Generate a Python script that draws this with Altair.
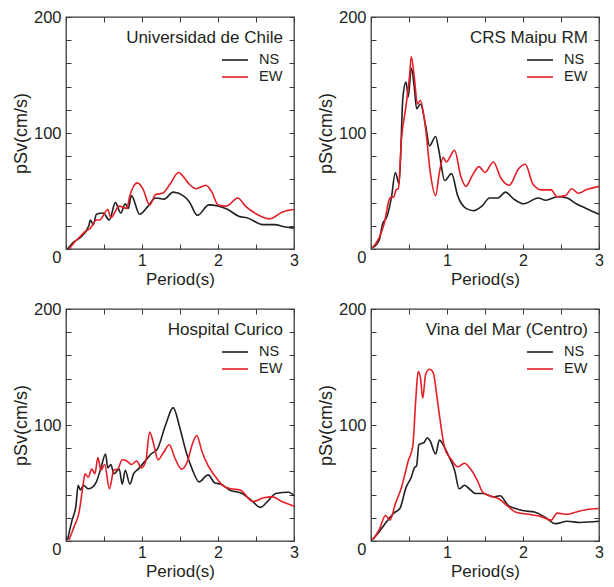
import altair as alt
import pandas as pd

SERIES = ["NS", "EW"]
COLORS = ["#231f20", "#e41e26"]
STATIONS = ["Universidad de Chile", "CRS Maipu RM", "Hospital Curico", "Vina del Mar (Centro)"]

X_TICKS = [0, 0.5, 1, 1.5, 2, 2.5, 3]
Y_TICKS = [0, 20, 40, 60, 80, 100, 120, 140, 160, 180, 200]

# Universidad de Chile
p1_ns_period = [0.02, 0.10, 0.19, 0.30, 0.32, 0.36, 0.40, 0.49, 0.57, 0.65, 0.72, 0.78, 0.82, 0.86, 0.97, 1.08, 1.18, 1.29, 1.41, 1.54, 1.62, 1.73, 1.88, 2.00, 2.13, 2.28, 2.38, 2.59, 2.74, 2.89, 3.0]
p1_ns_psv = [0, 6, 10, 20, 25, 21, 30, 31, 25, 40, 31, 39, 35, 46, 30, 37, 44, 43, 49, 46, 41, 29, 38, 37, 34, 28, 27, 21, 21, 19, 18]
p1_ew_period = [0.04, 0.10, 0.19, 0.25, 0.32, 0.40, 0.44, 0.55, 0.59, 0.70, 0.80, 0.84, 0.94, 1.01, 1.10, 1.18, 1.27, 1.37, 1.48, 1.56, 1.62, 1.71, 1.84, 1.92, 2.00, 2.11, 2.26, 2.36, 2.51, 2.68, 2.85, 3.0]
p1_ew_psv = [0, 5, 11, 15, 18, 25, 25, 34, 27, 37, 35, 46, 57, 52, 38, 47, 48, 56, 66, 61, 56, 52, 55, 49, 38, 37, 44, 37, 30, 26, 32, 34]

# CRS Maipu RM
p2_ns_period = [0.02, 0.11, 0.15, 0.21, 0.27, 0.32, 0.37, 0.42, 0.46, 0.49, 0.53, 0.57, 0.60, 0.65, 0.72, 0.77, 0.85, 0.89, 0.97, 1.06, 1.14, 1.25, 1.35, 1.46, 1.56, 1.67, 1.77, 1.88, 2.01, 2.20, 2.30, 2.45, 2.58, 2.70, 2.83, 3.0]
p2_ns_psv = [1, 8, 21, 28, 45, 66, 56, 131, 144, 131, 156, 139, 121, 125, 106, 89, 97, 86, 59, 65, 46, 35, 33, 37, 44, 44, 49, 43, 39, 44, 42, 45, 44, 39, 35, 30]
p2_ew_period = [0.02, 0.11, 0.17, 0.25, 0.30, 0.33, 0.36, 0.40, 0.46, 0.51, 0.53, 0.57, 0.61, 0.65, 0.72, 0.78, 0.85, 0.90, 0.95, 0.99, 1.10, 1.18, 1.25, 1.33, 1.42, 1.50, 1.61, 1.71, 1.82, 1.94, 2.03, 2.13, 2.24, 2.37, 2.45, 2.56, 2.64, 2.73, 2.83, 3.0]
p2_ew_psv = [1, 10, 21, 44, 45, 51, 52, 94, 123, 151, 166, 148, 125, 128, 103, 66, 46, 66, 79, 75, 85, 63, 54, 63, 71, 66, 75, 61, 55, 69, 73, 56, 51, 51, 45, 46, 52, 48, 51, 54]

# Hospital Curico
p3_ns_period = [0.02, 0.08, 0.13, 0.16, 0.19, 0.23, 0.29, 0.34, 0.40, 0.46, 0.52, 0.55, 0.59, 0.63, 0.70, 0.74, 0.78, 0.84, 0.89, 0.95, 1.03, 1.12, 1.20, 1.31, 1.41, 1.50, 1.58, 1.66, 1.75, 1.87, 1.96, 2.04, 2.15, 2.32, 2.44, 2.56, 2.65, 2.76, 2.93, 3.0]
p3_ns_psv = [1, 18, 30, 48, 44, 48, 45, 46, 51, 63, 75, 63, 66, 58, 62, 49, 61, 49, 58, 62, 68, 75, 79, 100, 115, 97, 77, 62, 51, 57, 50, 49, 44, 41, 35, 29, 34, 41, 42, 39]
p3_ew_period = [0.04, 0.11, 0.17, 0.22, 0.25, 0.29, 0.34, 0.38, 0.42, 0.46, 0.51, 0.57, 0.63, 0.68, 0.74, 0.80, 0.86, 0.93, 0.99, 1.05, 1.10, 1.16, 1.21, 1.28, 1.36, 1.43, 1.52, 1.60, 1.66, 1.72, 1.79, 1.87, 1.96, 2.06, 2.17, 2.29, 2.46, 2.59, 2.72, 2.84, 3.0]
p3_ew_psv = [1, 13, 24, 46, 58, 55, 62, 58, 72, 61, 66, 45, 61, 62, 70, 69, 66, 69, 63, 69, 94, 82, 70, 76, 83, 72, 62, 69, 83, 91, 77, 65, 56, 48, 45, 44, 34, 37, 38, 34, 30]

# Vina del Mar (Centro)
p4_ns_period = [0.02, 0.13, 0.21, 0.30, 0.38, 0.46, 0.53, 0.57, 0.60, 0.63, 0.70, 0.74, 0.78, 0.85, 0.90, 0.95, 1.01, 1.10, 1.16, 1.23, 1.31, 1.37, 1.48, 1.61, 1.70, 1.80, 1.90, 2.01, 2.15, 2.30, 2.43, 2.58, 2.75, 3.0]
p4_ns_psv = [1, 10, 17, 24, 28, 46, 55, 63, 65, 83, 85, 89, 86, 75, 87, 83, 75, 61, 45, 48, 44, 41, 41, 38, 39, 31, 28, 26, 25, 20, 15, 17, 16, 17]
p4_ew_period = [0.02, 0.11, 0.19, 0.25, 0.32, 0.40, 0.49, 0.55, 0.59, 0.62, 0.65, 0.68, 0.72, 0.77, 0.82, 0.87, 0.91, 0.97, 1.06, 1.14, 1.23, 1.31, 1.40, 1.47, 1.56, 1.69, 1.80, 1.90, 2.07, 2.24, 2.37, 2.45, 2.58, 2.70, 2.83, 3.0]
p4_ew_psv = [1, 10, 22, 18, 32, 46, 69, 82, 123, 146, 141, 123, 144, 148, 145, 123, 104, 80, 70, 64, 67, 62, 52, 42, 39, 36, 30, 25, 23, 21, 18, 24, 23, 25, 27, 28]

W = 228
H = 232
FONT = "Liberation Sans"
TXT = "#231f20"
FRAME = "#3a3a3a"
TICK_LEN = 5

xs = alt.Scale(domain=[0, 3], nice=False, zero=False)
ys = alt.Scale(domain=[0, 200], nice=False)
cs = alt.Scale(domain=SERIES, range=COLORS)


def main_axes():
    xa = alt.Axis(orient="bottom", values=X_TICKS, title="Period(s)",
                  labelExpr="datum.value % 1 == 0 && datum.value > 0 ? format(datum.value, 'd') : ''",
                  labelFlush=False, offset=-TICK_LEN, ticks=True, tickSize=TICK_LEN, tickWidth=1,
                  domain=False, grid=False, labelPadding=3, labelFontSize=16, titleFontSize=17,
                  titlePadding=3, labelColor=TXT, titleColor=TXT, tickColor=FRAME,
                  titleFontWeight="normal", labelFont=FONT, titleFont=FONT)
    ya = alt.Axis(orient="left", values=Y_TICKS, title="pSv(cm/s)",
                  labelExpr="datum.value % 100 == 0 ? datum.label : ''",
                  labelBaseline=alt.condition("datum.value == 0", alt.value("top"), alt.value("middle")),
                  offset=-TICK_LEN, ticks=True, tickSize=TICK_LEN, tickWidth=1, domain=False, grid=False,
                  labelPadding=5, labelFontSize=16.5, titleFontSize=18, titlePadding=3, labelColor=TXT,
                  titleColor=TXT, tickColor=FRAME, titleFontWeight="normal", labelFont=FONT, titleFont=FONT)
    return xa, ya


def mirror_axes():
    xa = alt.Axis(orient="top", values=X_TICKS, title=None, labels=False, ticks=True, grid=False,
                  offset=-TICK_LEN, tickSize=TICK_LEN, tickWidth=1, domain=False, tickColor=FRAME)
    ya = alt.Axis(orient="right", values=Y_TICKS, title=None, labels=False, ticks=True, grid=False,
                  offset=-TICK_LEN, tickSize=TICK_LEN, tickWidth=1, domain=False, tickColor=FRAME)
    return xa, ya


def panel(name, ns_p, ns_v, ew_p, ew_v):
    df = pd.concat([
        pd.DataFrame({"period": ns_p, "psv": ns_v, "series": SERIES[0]}),
        pd.DataFrame({"period": ew_p, "psv": ew_v, "series": SERIES[1]}),
    ], ignore_index=True)
    mxa, mya = main_axes()
    rxa, rya = mirror_axes()
    mirror = alt.Chart(df).mark_line(strokeOpacity=0).encode(
        x=alt.X("period:Q", scale=xs, axis=rxa),
        y=alt.Y("psv:Q", scale=ys, axis=rya),
        detail="series:N",
    )
    lines = alt.Chart(df).mark_line(strokeWidth=1.6, interpolate="monotone").encode(
        x=alt.X("period:Q", scale=xs, axis=mxa),
        y=alt.Y("psv:Q", scale=ys, axis=mya),
        color=alt.Color("series:N", scale=cs, legend=None),
    )
    title = alt.Chart(pd.DataFrame({"label": [name]})).mark_text(
        align="right", baseline="alphabetic", fontSize=17, font=FONT, color=TXT
    ).encode(text="label:N", x=alt.value(W - 11), y=alt.value(26))
    leg = []
    for i, s in enumerate(SERIES):
        d = pd.DataFrame({"s": [s]})
        leg.append(alt.Chart(d).mark_rule(color=COLORS[i], strokeWidth=1.6).encode(
            x=alt.value(W - 72), x2=alt.value(W - 46), y=alt.value(43 + 17 * i)))
        leg.append(alt.Chart(d).mark_text(align="left", baseline="middle", fontSize=14.5,
                                          font=FONT, color=TXT).encode(
            text="s:N", x=alt.value(W - 35), y=alt.value(43 + 17 * i)))
    return alt.layer(mirror, lines, title, *leg).resolve_axis(
        x="independent", y="independent").properties(width=W, height=H)


p1 = panel(STATIONS[0], p1_ns_period, p1_ns_psv, p1_ew_period, p1_ew_psv)
p2 = panel(STATIONS[1], p2_ns_period, p2_ns_psv, p2_ew_period, p2_ew_psv)
p3 = panel(STATIONS[2], p3_ns_period, p3_ns_psv, p3_ew_period, p3_ew_psv)
p4 = panel(STATIONS[3], p4_ns_period, p4_ns_psv, p4_ew_period, p4_ew_psv)

chart = alt.concat(p1, p2, p3, p4, columns=2, spacing={"row": 12, "column": 16}).properties(
    padding={"left": 3, "top": 0, "right": 0, "bottom": 0}
).configure_view(stroke=FRAME, strokeWidth=1.3)

chart.save("out.html", embed_options={"renderer": "svg", "actions": False})
